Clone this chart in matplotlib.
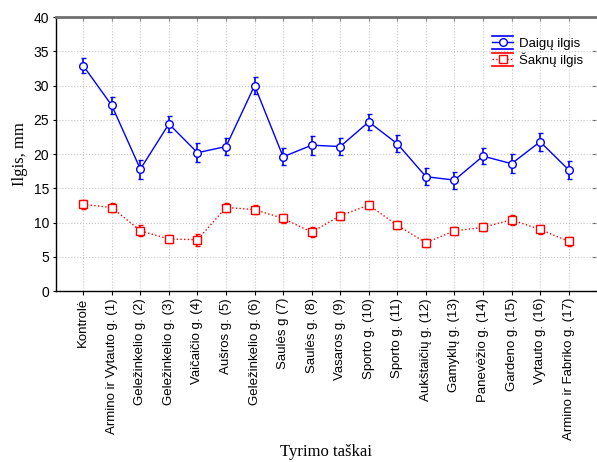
import numpy as np
import matplotlib.pyplot as plt
from matplotlib.lines import Line2D
from matplotlib.legend_handler import HandlerBase

vietos = ["Kontrolė", "Armino ir Vytauto g. (1)", "Geležinkelio g. (2)", "Geležinkelio g. (3)",
          "Vaičaičio g. (4)", "Aušros g. (5)", "Geležinkelio g. (6)", "Saulės g (7)",
          "Saulės g. (8)", "Vasaros g. (9)", "Sporto g. (10)", "Sporto g. (11)",
          "Aukštaičių g. (12)", "Gamyklų g. (13)", "Panevėžio g. (14)", "Gardeno g. (15)",
          "Vytauto g. (16)", "Armino ir Fabriko g. (17)"]
daigai = [32.9, 27.1, 17.8, 24.4, 20.2, 21.1, 30.0, 19.6, 21.3, 21.1, 24.7, 21.5,
          16.7, 16.2, 19.7, 18.6, 21.8, 17.7]
daigai_err = [1.1, 1.3, 1.4, 1.2, 1.4, 1.3, 1.3, 1.25, 1.4, 1.2, 1.15, 1.25,
              1.25, 1.25, 1.2, 1.35, 1.3, 1.3]
saknys = [12.65, 12.2, 8.8, 7.6, 7.5, 12.2, 11.9, 10.6, 8.6, 11.0, 12.55, 9.6,
          7.05, 8.8, 9.3, 10.4, 9.0, 7.25]
saknys_err = [0.6, 0.6, 0.8, 0.6, 0.9, 0.7, 0.7, 0.6, 0.7, 0.6, 0.6, 0.6,
              0.6, 0.6, 0.6, 0.7, 0.6, 0.6]


class CapHandler(HandlerBase):
    # legend key: line with marker, plus wide caps above and below
    def __init__(self, color, ls, marker):
        super().__init__()
        self.color, self.ls, self.marker = color, ls, marker

    def create_artists(self, legend, orig_handle, xdescent, ydescent, width, height, fontsize, trans):
        cy = height / 2 - ydescent
        x0, x1 = -xdescent, width - xdescent
        off = height * 0.68
        arts = [Line2D([x0, x1], [cy + off, cy + off], color=self.color, lw=1.2),
                Line2D([x0, x1], [cy - off, cy - off], color=self.color, lw=1.2),
                Line2D([x0, x1], [cy, cy], color=self.color, lw=1, ls=self.ls),
                Line2D([(x0 + x1) / 2], [cy], color=self.color, marker=self.marker, ms=5.5,
                       mfc="white", mew=1, ls="none")]
        for a in arts:
            a.set_transform(trans)
        return arts


x = np.arange(len(vietos))

fig = plt.figure(figsize=(5.97, 4.62), dpi=100)
ax = fig.add_axes([0.094, 0.370, 0.904, 0.593])

h1 = ax.errorbar(x, daigai, yerr=daigai_err, color="#0000ff", lw=1, marker="o", ms=5.5,
                 mfc="white", mec="#0000ff", mew=1, capsize=1.8, elinewidth=1.2)
h2 = ax.errorbar(x, saknys, yerr=saknys_err, color="#ff0000", lw=1, ls=":", marker="s", ms=5.5,
                 mfc="white", mec="#ff0000", mew=1, capsize=1.8, elinewidth=1.2)

ax.set_xlim(-0.95, 17.95)
ax.set_ylim(0, 40)
ax.set_yticks(range(0, 41, 5))
ax.set_xticks(x)
ax.set_xticklabels(vietos, rotation=90, fontsize=9.5, family="Liberation Sans")
for t in ax.get_yticklabels():
    t.set_fontsize(10)
    t.set_family("Liberation Sans")

ax.grid(True, ls=":", color="#c8c8c8", lw=0.8)
ax.tick_params(axis="x", bottom=True, top=False, direction="out", length=3, pad=2, color="black")
ax.tick_params(axis="y", left=True, right=False, direction="out", length=2, pad=3, color="black")
sec = ax.secondary_xaxis("top")
sec.set_xticks(x)
sec.set_xticklabels([])
sec.tick_params(direction="in", length=3, color="#505050")
sec.spines["top"].set_visible(False)
secy = ax.secondary_yaxis("right")
secy.set_yticks(range(0, 41, 5))
secy.set_yticklabels([])
secy.tick_params(direction="in", length=3, color="#505050")
secy.spines["right"].set_visible(False)

ax.spines["left"].set_color("black")
ax.spines["left"].set_linewidth(1)
ax.spines["bottom"].set_color("black")
ax.spines["bottom"].set_linewidth(1)
ax.spines["top"].set_color("#707070")
ax.spines["top"].set_linewidth(2)
ax.spines["right"].set_visible(False)

ax.set_ylabel("Ilgis, mm", family="Liberation Serif", fontsize=12, labelpad=4)
ax.set_xlabel("Tyrimo taškai", family="Liberation Serif", fontsize=12)
ax.xaxis.set_label_coords(0.5, -0.56)

ax.legend([h1, h2], ["Daigų ilgis", "Šaknų ilgis"],
          handler_map={h1: CapHandler("#0000ff", "-", "o"), h2: CapHandler("#ff0000", ":", "s")},
          loc="upper right", bbox_to_anchor=(0.998, 0.968), frameon=False,
          prop={"family": "Liberation Sans", "size": 9.5},
          handlelength=1.55, handletextpad=0.45, labelspacing=0.2)

fig.savefig("out.png", dpi=100)
